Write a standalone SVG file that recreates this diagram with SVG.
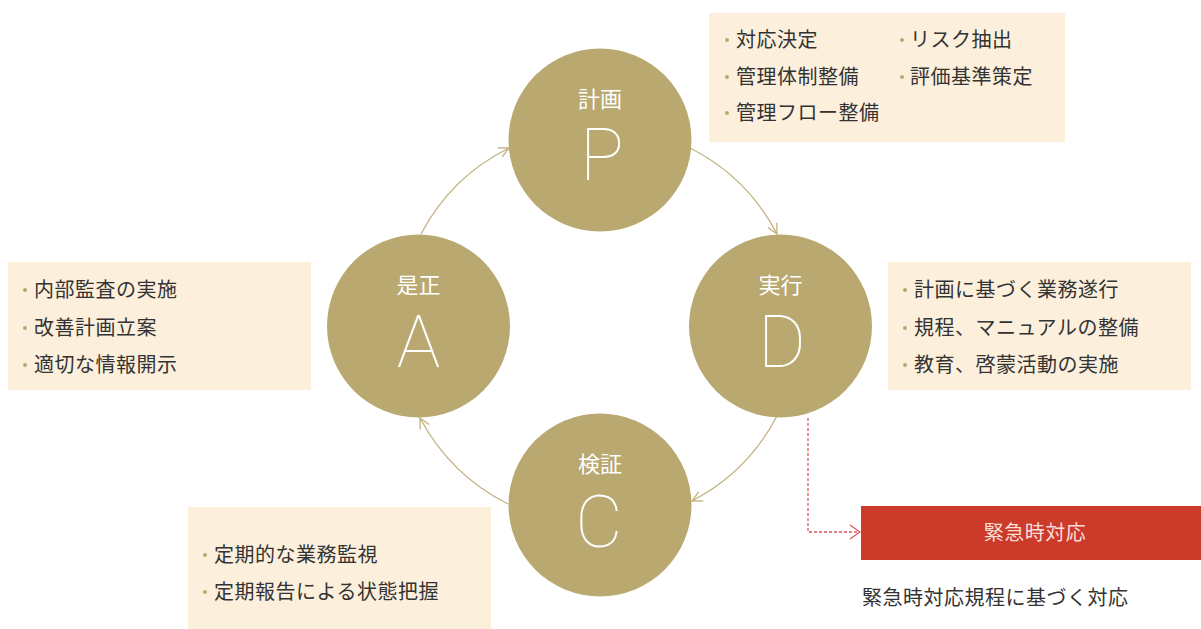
<svg xmlns="http://www.w3.org/2000/svg" width="1201" height="629" viewBox="0 0 1201 629">
  <style>
    .node { fill: #b9a86f; }
    .box { fill: #fcf0dd; }
    .item { font-family: "Noto Sans CJK JP", "Noto Sans", sans-serif; font-size: 20px; fill: #333333; letter-spacing: 0.5px; }
    .dot { fill: #b9a86f; }
    .lbl { font-family: "Noto Sans CJK JP", sans-serif; font-size: 22px; fill: #ffffff; text-anchor: middle; }
    .big { font-family: "Roboto", "Lato", "Open Sans", sans-serif; font-weight: 100; font-size: 73px; fill: #ffffff; text-anchor: middle; }
    .arc { fill: none; stroke: #c2b27e; stroke-width: 1.3; marker-end: url(#arr); }
    .emg { fill: none; stroke: #e0525c; stroke-width: 1.3; stroke-dasharray: 3 2; marker-end: url(#arrR); }
  </style>
  <defs>
    <marker id="arr" viewBox="0 0 12 12" refX="11" refY="6" markerWidth="12" markerHeight="12" markerUnits="userSpaceOnUse" orient="auto">
      <path d="M1,1 L11,6 L1,11" fill="none" stroke="#c2b27e" stroke-width="1.3"/>
    </marker>
    <marker id="arrR" viewBox="0 0 12 16" refX="11" refY="8" markerWidth="12" markerHeight="16" markerUnits="userSpaceOnUse" orient="auto">
      <path d="M1,1 L11,8 L1,15" fill="none" stroke="#e0525c" stroke-width="1.3"/>
    </marker>
  </defs>
  <rect width="1201" height="629" fill="#ffffff"/>

  <g id="connectors">
    <path class="arc" d="M421,234 A200,200 0 0,1 509,148"/>
    <path class="arc" d="M690,148 A200,200 0 0,1 777,234"/>
    <path class="arc" d="M777,416 A200,200 0 0,1 692,501"/>
    <path class="arc" d="M508,504 A203,203 0 0,1 420,418"/>
    <path class="emg" d="M808,418 V532 H860"/>
  </g>

  <g id="box-plan">
    <rect class="box" x="709" y="13" width="356" height="129"/>
    <circle class="dot" cx="727" cy="40" r="2"/>
    <text class="item" x="736" y="47">対応決定</text>
    <circle class="dot" cx="727" cy="77" r="2"/>
    <text class="item" x="736" y="83.5">管理体制整備</text>
    <circle class="dot" cx="727" cy="113" r="2"/>
    <text class="item" x="736" y="120">管理フロー整備</text>
    <circle class="dot" cx="902" cy="40" r="2"/>
    <text class="item" x="910" y="47">リスク抽出</text>
    <circle class="dot" cx="902" cy="77" r="2"/>
    <text class="item" x="910" y="83.5">評価基準策定</text>
  </g>

  <g id="box-act">
    <rect class="box" x="8" y="262" width="303" height="128"/>
    <circle class="dot" cx="25" cy="290" r="2"/>
    <text class="item" x="34" y="296.5">内部監査の実施</text>
    <circle class="dot" cx="25" cy="328" r="2"/>
    <text class="item" x="34" y="334.5">改善計画立案</text>
    <circle class="dot" cx="25" cy="365" r="2"/>
    <text class="item" x="34" y="371.5">適切な情報開示</text>
  </g>

  <g id="box-do">
    <rect class="box" x="888" y="262" width="303" height="128"/>
    <circle class="dot" cx="905" cy="290" r="2"/>
    <text class="item" x="914" y="296.5">計画に基づく業務遂行</text>
    <circle class="dot" cx="905" cy="328" r="2"/>
    <text class="item" x="914" y="334.5">規程、マニュアルの整備</text>
    <circle class="dot" cx="905" cy="365" r="2"/>
    <text class="item" x="914" y="371.5">教育、啓蒙活動の実施</text>
  </g>

  <g id="box-check">
    <rect class="box" x="188" y="507" width="303" height="122"/>
    <circle class="dot" cx="205" cy="555" r="2"/>
    <text class="item" x="214" y="561.5">定期的な業務監視</text>
    <circle class="dot" cx="205" cy="592" r="2"/>
    <text class="item" x="214" y="598.5">定期報告による状態把握</text>
  </g>

  <g id="node-P">
    <circle class="node" cx="600" cy="140" r="91.5"/>
    <text class="lbl" x="600" y="107">計画</text>
    <text class="big" x="602" y="180">P</text>
  </g>
  <g id="node-D">
    <circle class="node" cx="780.5" cy="326" r="91.5"/>
    <text class="lbl" x="780.5" y="293">実行</text>
    <text class="big" x="782" y="367">D</text>
  </g>
  <g id="node-C">
    <circle class="node" cx="600" cy="505" r="91.5"/>
    <text class="lbl" x="600" y="472">検証</text>
    <text class="big" x="599" y="547">C</text>
  </g>
  <g id="node-A">
    <circle class="node" cx="418.5" cy="326" r="91.5"/>
    <text class="lbl" x="418.5" y="293">是正</text>
    <text class="big" x="418.5" y="367">A</text>
  </g>

  <g id="node-emergency">
    <rect x="861" y="506" width="340" height="54" fill="#cc3a2a"/>
    <text x="1035" y="540" font-family="Noto Sans CJK JP, sans-serif" font-size="20" fill="#f8ded8" text-anchor="middle" letter-spacing="0.5">緊急時対応</text>
    <text x="862" y="605" font-family="Noto Sans CJK JP, sans-serif" font-size="20" fill="#333333" letter-spacing="0.5">緊急時対応規程に基づく対応</text>
  </g>
</svg>
